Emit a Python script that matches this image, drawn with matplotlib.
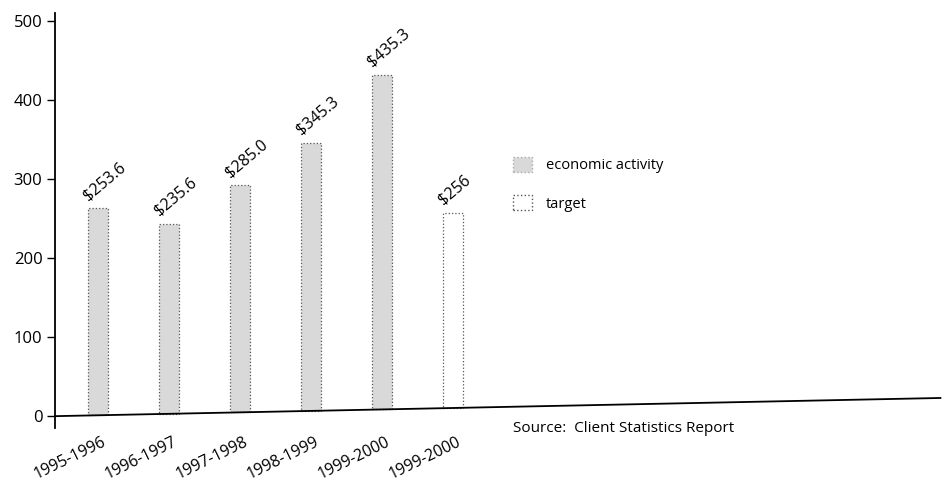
import numpy as np
import matplotlib.pyplot as plt
from matplotlib.patches import Patch
from matplotlib.transforms import ScaledTranslation

plt.rcParams['font.family'] = ['Open Sans', 'DejaVu Sans']

# values (bar tops against the y axis) and printed labels
periods = ['1995-1996', '1996-1997', '1997-1998', '1998-1999', '1999-2000', '1999-2000']
bar_tops = [263, 243, 292, 346, 432, 257]
value_labels = ['$253.6', '$235.6', '$285.0', '$345.3', '$435.3', '$256']
kinds = ['economic activity'] * 5 + ['target']

fig = plt.figure(figsize=(9.48, 4.82), dpi=100)
ax = fig.add_axes([0.058, 0.112, 0.934, 0.861])

x = np.arange(len(periods))
xmin, xmax = -0.6, 11.86
ax.set_xlim(xmin, xmax)
ax.set_ylim(-15, 510)

# the scanned x axis line rises slightly to the right
rise = 23
def base_at(xv):
    return rise * (np.asarray(xv) - xmin) / (xmax - xmin)

width = 0.28
gray = '#d9d9d9'
base = base_at(x)
heights = np.array(bar_tops) - base
for xi, b, h, kind in zip(x, base, heights, kinds):
    face = gray if kind == 'economic activity' else 'white'
    ax.bar(xi, h, width=width, bottom=b, color=face, edgecolor='#555555',
           linestyle=':', linewidth=0.9)

for xi, top, lab in zip(x, bar_tops, value_labels):
    ax.text(xi - width / 2 + 0.04, top + 6, lab, rotation=40, ha='left', va='bottom',
            rotation_mode='anchor', fontsize=11.5)

ax.plot([xmin, xmax], [0, rise], color='black', lw=1.3, clip_on=False)

ax.set_xticks(x)
ax.set_xticklabels(periods, rotation=26, ha='right', va='top',
                   rotation_mode='anchor', fontsize=11.5)
ax.tick_params(axis='x', length=0, pad=4)
shift = ScaledTranslation(4 / 100, 0, fig.dpi_scale_trans)
for lab in ax.get_xticklabels():
    lab.set_transform(lab.get_transform() + shift)
ax.set_yticks([0, 100, 200, 300, 400, 500])
ax.tick_params(axis='y', length=6, width=1, labelsize=12, pad=3)

for s in ['top', 'right', 'bottom']:
    ax.spines[s].set_visible(False)
ax.spines['left'].set_linewidth(1.3)

handles = [Patch(facecolor=gray, edgecolor='#aaaaaa', linestyle=':'),
           Patch(facecolor='white', edgecolor='#555555', linestyle=':')]
ax.legend(handles, ['economic activity', 'target'], frameon=False, loc='upper left',
          bbox_to_anchor=(0.503, 0.685), fontsize=10.5, handlelength=1.3,
          handleheight=1.2, labelspacing=1.5, handletextpad=0.9)

fig.text(0.541, 0.112, 'Source:  Client Statistics Report', fontsize=11, va='center')

plt.savefig('out.png', dpi=100)
plt.close()
